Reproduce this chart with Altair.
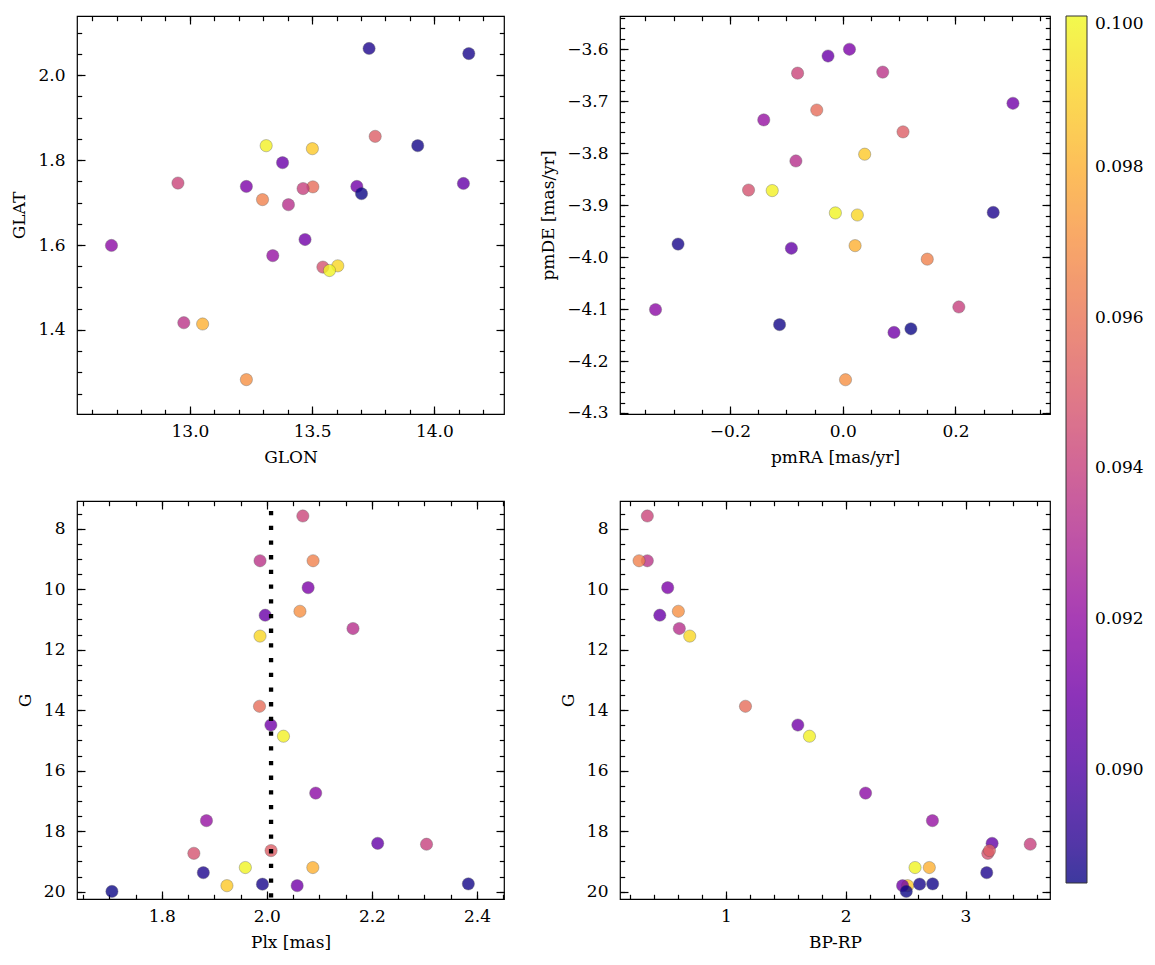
import altair as alt
import pandas as pd

# ---- per-star values ----
glon = [12.951, 12.975, 13.297, 13.231, 13.379, 13.231, 13.403, 13.605, 13.503, 13.683, 13.312, 12.679, 13.339,
        14.119, 13.463, 13.544, 13.758, 13.571, 13.052, 13.733, 13.501, 14.141, 13.471, 13.932, 13.702]
glat = [1.746, 1.417, 1.707, 1.738, 1.794, 1.283, 1.695, 1.551, 1.737, 1.738, 1.834, 1.599, 1.575,
        1.745, 1.733, 1.548, 1.856, 1.540, 1.414, 2.063, 1.827, 2.051, 1.613, 1.834, 1.721]
pmra = [-0.080, 0.071, 0.150, 0.012, -0.026, 0.005, -0.083, 0.026, -0.046, 0.302, -0.125, -0.332, -0.140,
        -0.091, 0.206, -0.167, 0.107, -0.013, 0.022, 0.267, 0.039, -0.292, 0.091, -0.112, 0.121]
pmde = [-3.646, -3.644, -4.004, -3.600, -3.613, -4.236, -3.815, -3.919, -3.717, -3.704, -3.872, -4.101, -3.736,
        -3.983, -4.096, -3.871, -3.759, -3.915, -3.978, -3.914, -3.802, -3.975, -4.145, -4.130, -4.138]
plx = [2.0685, 1.987, 2.088, 2.0786, 1.9968, 2.063, 2.164, 1.987, 1.986, 2.0076, 2.0316, 2.093, 1.885,
       2.211, 2.304, 1.861, 2.008, 1.959, 2.0875, 1.879, 1.924, 1.9916, 2.0577, 2.3836, 1.705]
gmag = [7.58, 9.06, 9.06, 9.95, 10.86, 10.73, 11.30, 11.55, 13.87, 14.49, 14.86, 16.74, 17.65,
        18.40, 18.43, 18.73, 18.64, 19.20, 19.20, 19.37, 19.80, 19.75, 19.80, 19.74, 19.99]
bprp = [0.345, 0.345, 0.276, 0.515, 0.449, 0.604, 0.612, 0.699, 1.164, 1.601, 1.698, 2.166, 2.724,
        3.222, 3.540, 3.186, 3.200, 2.579, 2.698, 3.177, 2.517, 2.617, 2.475, 2.726, 2.506]
cval = [0.0942, 0.0935, 0.0965, 0.0913, 0.0908, 0.0970, 0.0933, 0.0991, 0.0958, 0.0910, 0.0998, 0.0918, 0.0921,
        0.0906, 0.0940, 0.0947, 0.0952, 0.0999, 0.0980, 0.0888, 0.0987, 0.0887, 0.0910, 0.0886, 0.0885]
plx_mean = [2.008]

# colour bar
c_domain = [0.0885, 0.1000]
c_ticks = [0.090, 0.092, 0.094, 0.096, 0.098, 0.100]

# major tick labels
glon_ticks = [13.0, 13.5, 14.0]
glat_ticks = [1.4, 1.6, 1.8, 2.0]
pmra_ticks = [-0.2, 0.0, 0.2]
pmde_ticks = [-4.3, -4.2, -4.1, -4.0, -3.9, -3.8, -3.7, -3.6]
plx_ticks = [1.8, 2.0, 2.2, 2.4]
g_ticks = [8, 10, 12, 14, 16, 18, 20]
bprp_ticks = [1, 2, 3]

df = pd.DataFrame({"GLON": glon, "GLAT": glat, "pmRA": pmra, "pmDE": pmde,
                   "Plx": plx, "G": gmag, "BPRP": bprp, "c": cval})

FONT = "DejaVu Serif"
FS = 17
MAJ = 8
MIN = 4.7


def minor(start, stop, step, dom):
    lo, hi = min(dom), max(dom)
    n = int(round((stop - start) / step))
    out = []
    for i in range(n + 1):
        v = round(start + i * step, 6)
        if lo <= v <= hi:
            out.append(v)
    return out


common = dict(grid=False, domain=False, tickColor="black", tickWidth=1.2, labelFlush=False,
              labelFont=FONT, labelFontSize=FS, labelColor="black",
              titleFont=FONT, titleFontSize=FS, titleFontWeight="normal", titleColor="black")

legend = alt.Legend(title=None, type="gradient", direction="vertical", orient="right", offset=14, padding=0,
                    gradientLength=867, gradientThickness=21, gradientStrokeColor="black",
                    gradientStrokeWidth=1, values=c_ticks, format=".3f", labelFont=FONT,
                    labelFontSize=FS, labelColor="black", labelOffset=8, labelBaseline="middle")


def panel(xf, yf, xdom, ydom, xmaj, ymaj, xmin_v, ymin_v, xtitle, ytitle, xfmt, yfmt, w, h,
          yrev=False, vline=None):
    xs = alt.Scale(domain=xdom, nice=False, zero=False)
    ys = alt.Scale(domain=ydom, nice=False, zero=False, reverse=yrev)
    base = alt.Chart(df)
    pts = base.mark_circle(size=150, opacity=0.8, stroke="#444444", strokeWidth=0.4).encode(
        x=alt.X(xf, type="quantitative", scale=xs,
                axis=alt.Axis(orient="bottom", values=xmaj, format=xfmt, title=xtitle, tickSize=MAJ,
                              offset=-MAJ, labelPadding=9, titlePadding=10, **common)),
        y=alt.Y(yf, type="quantitative", scale=ys,
                axis=alt.Axis(orient="left", values=ymaj, format=yfmt, title=ytitle, tickSize=MAJ,
                              offset=-MAJ, labelPadding=12, titlePadding=9, **common)),
        color=alt.Color("c:Q", scale=alt.Scale(scheme="plasma", domain=c_domain), legend=legend),
    )

    def ghost(xo, yo, xv, yv, size):
        return base.mark_circle(opacity=0).encode(
            x=alt.X(xf, type="quantitative", scale=xs,
                    axis=alt.Axis(orient=xo, values=xv, labels=False, title=None, tickSize=size,
                                  offset=-size, **common)),
            y=alt.Y(yf, type="quantitative", scale=ys,
                    axis=alt.Axis(orient=yo, values=yv, labels=False, title=None, tickSize=size,
                                  offset=-size, **common)),
        )

    layers = [
        ghost("bottom", "left", xmin_v, ymin_v, MIN),
        ghost("top", "right", xmin_v, ymin_v, MIN),
        ghost("top", "right", xmaj, ymaj, MAJ),
        pts,
    ]
    if vline is not None:
        rule = alt.Chart(pd.DataFrame({"v": vline})).mark_rule(
            color="black", strokeWidth=4.3, strokeDash=[4.3, 10.4], strokeDashOffset=4.7, strokeCap="butt"
        ).encode(x=alt.X("v:Q", scale=xs, axis=None))
        layers.append(rule)
    return alt.layer(*layers).resolve_axis(x="independent", y="independent").properties(width=w, height=h)


d1x, d1y = [12.538, 14.285], [1.202, 2.1395]
d2x, d2y = [-0.395, 0.3677], [-4.302, -3.536]
d3x, d3y = [1.6385, 2.4515], [7.085, 20.24]
d4x = [0.117, 3.705]

p1 = panel("GLON", "GLAT", d1x, d1y, glon_ticks, glat_ticks,
           minor(12.5, 14.3, 0.1, d1x), minor(1.2, 2.15, 0.05, d1y),
           "GLON", "GLAT", ".1f", ".1f", 427, 398)
p2 = panel("pmRA", "pmDE", d2x, d2y, pmra_ticks, pmde_ticks,
           minor(-0.4, 0.4, 0.05, d2x), minor(-4.32, -3.52, 0.02, d2y),
           "pmRA [mas/yr]", "pmDE [mas/yr]", ".1f", ".1f", 430, 398)
p3 = panel("Plx", "G", d3x, d3y, plx_ticks, g_ticks,
           minor(1.6, 2.5, 0.05, d3x), minor(7.0, 20.5, 0.5, d3y),
           "Plx [mas]", "G", ".1f", "d", 427, 398, yrev=True, vline=plx_mean)
p4 = panel("BPRP", "G", d4x, d3y, bprp_ticks, g_ticks,
           minor(0.0, 3.8, 0.2, d4x), minor(7.0, 20.5, 0.5, d3y),
           "BP-RP", "G", "d", "d", 430, 398, yrev=True)

chart = alt.concat(p1, p2, p3, p4, columns=2, spacing={"row": 87, "column": 116}, bounds="flush").properties(
    padding={"left": 10, "top": 14, "right": 5, "bottom": 5}, background="white"
).configure_view(stroke="black", strokeWidth=1.2)

chart.save("out.html", embed_options={"renderer": "svg", "actions": False})
